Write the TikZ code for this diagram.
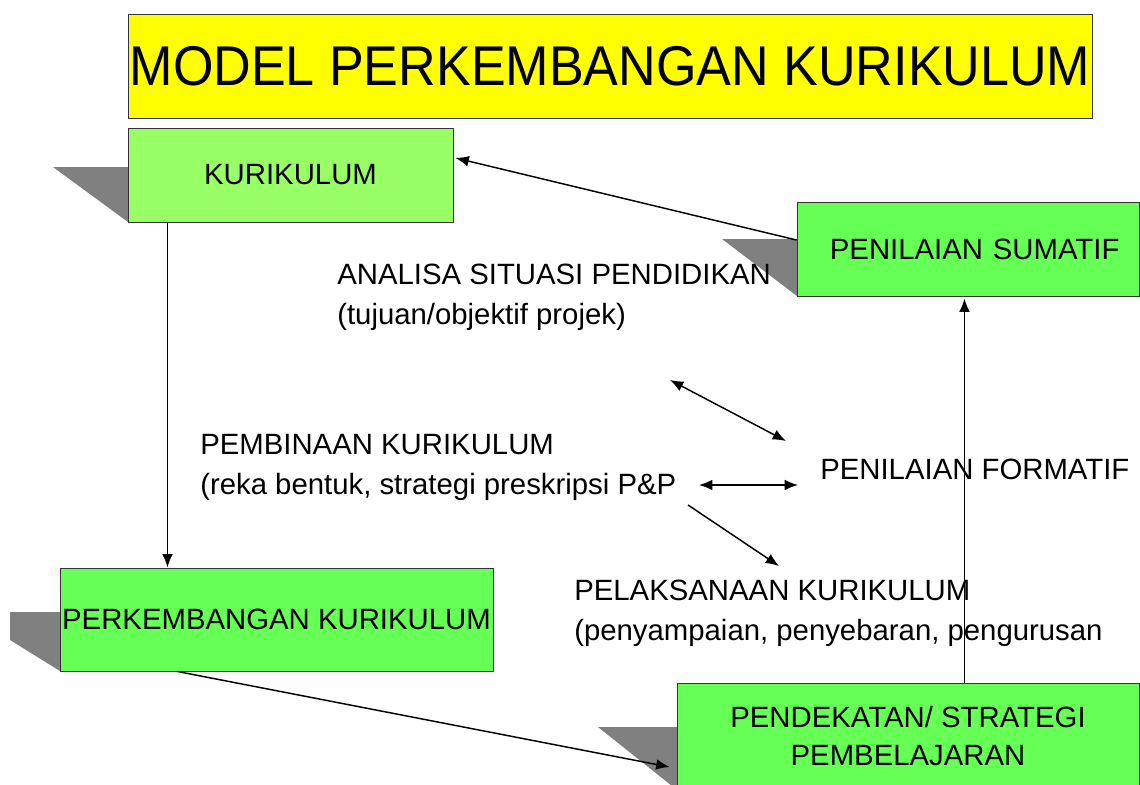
\documentclass[tikz,border=0pt]{standalone}
\usepackage{fontspec}
\setmainfont{Liberation Sans}
\usetikzlibrary{calc,arrows.meta}
\definecolor{titleyellow}{RGB}{255,255,0}
\definecolor{lightgreen}{RGB}{153,255,102}
\definecolor{boxgreen}{RGB}{102,255,85}
\definecolor{shadowgray}{RGB}{128,128,128}

\begin{document}
\begin{tikzpicture}[x=0.75pt,y=-0.75pt,
  box/.style={draw=black!80,line width=0.75pt,fill=boxgreen,inner sep=0pt,align=center,font=\fontsize{22}{29}\selectfont},
  lbl/.style={anchor=west,inner sep=0pt,align=left,font=\fontsize{22}{30}\selectfont},
  link/.style={line width=1.1pt,-{Latex[length=10pt,width=8pt]}},
  both/.style={line width=1.1pt,{Latex[length=10pt,width=8pt]}-{Latex[length=10pt,width=8pt]}},
  back/.style={fill=shadowgray}]
\useasboundingbox (0,0) rectangle (1140,785);
% shadows behind the boxes
\fill[back] (53,167) -- (128,167) -- (128,222) -- cycle;
\fill[back] (722,239) -- (797,239) -- (797,296) -- cycle;
\fill[back] (10,612) -- (60,612) -- (60,671) -- (10,640) -- cycle;
\fill[back] (598,727) -- (677,727) -- (677,790) -- cycle;
% boxes
\node[box,fill=titleyellow,minimum width=723pt,minimum height=78pt] (title) at (610,66)
  {\fontsize{42}{42}\selectfont\scalebox{0.93}[1]{MODEL PERKEMBANGAN KURIKULUM}};
\node[box,fill=lightgreen,minimum width=243.75pt,minimum height=70.5pt] (kur) at (290.5,175) {KURIKULUM};
\node[box,minimum width=256.5pt,minimum height=70.5pt,text width=240pt] (sumatif) at (968,249) {\hspace*{10pt}PENILAIAN SUMATIF};
\node[box,minimum width=324.75pt,minimum height=77.25pt] (perk) at (276.5,619.5) {PERKEMBANGAN KURIKULUM};
\node[box,minimum width=346.5pt,minimum height=79.5pt] (pend) at (908,736) {PENDEKATAN/ STRATEGI\\PEMBELAJARAN};
% free texts
\node[lbl] (analisa) at (337,297) {ANALISA SITUASI PENDIDIKAN\\(tujuan/objektif projek)};
\node[lbl] (pembinaan) at (200,467) {PEMBINAAN KURIKULUM\\(reka bentuk, strategi preskripsi P\&P};
\node[lbl] (formatif) at (820,469) {PENILAIAN FORMATIF};
\node[lbl] (pelaksanaan) at (574,613) {PELAKSANAAN KURIKULUM\\(penyampaian, penyebaran, pengurusan};
% arrow ends between the texts
\coordinate (a1) at (670,380);
\coordinate (a2) at (786,441);
\coordinate (b1) at (699,485);
\coordinate (b2) at (798,485);
\coordinate (c1) at (688,505);
\coordinate (c2) at (779,566);
% connectors
\draw[link] ($(sumatif.west)+(0,-9)$) -- ($(kur.east)+(2,-17)$);
\draw[link] ($(kur.south west)+(40,0)$) -- ($(perk.north west)+(108,0)$);
\draw[link] ($(perk.south west)+(118,0)$) -- ($(pend.west)+(-7,31)$);
\draw[link] ($(pend.north west)+(288,0)$) -- ($(sumatif.south west)+(168,2)$);
\draw[both] (a1) -- (a2);
\draw[both] (b1) -- (b2);
\draw[link] (c1) -- (c2);
\end{tikzpicture}
\end{document}
